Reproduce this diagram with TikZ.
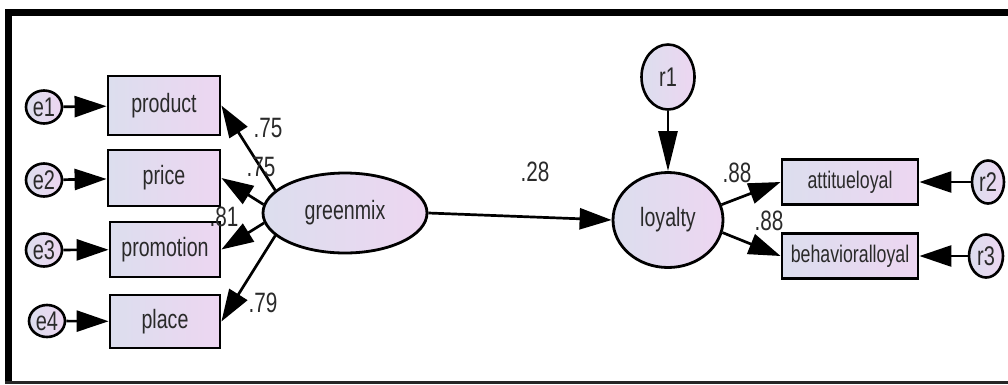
\documentclass[tikz,border=0pt]{standalone}
\usepackage{fontspec}
\setmainfont{Liberation Sans}[FakeStretch=0.74]
\usetikzlibrary{arrows.meta,shapes.geometric}
\definecolor{lfill}{HTML}{DCDEEE}
\definecolor{rfill}{HTML}{EDD6F1}
\definecolor{txt}{HTML}{2A2A2A}
\tikzset{
  obs/.style={draw=black, line width=2.8pt, rectangle, left color=lfill, right color=rfill,
    inner sep=0pt, text=txt, font=\fontsize{26.5}{26.5}\selectfont},
  lat/.style={draw=black, line width=2.8pt, ellipse, left color=lfill, right color=rfill,
    inner sep=0pt, text=txt, font=\fontsize{26.5}{26.5}\selectfont},
  err/.style={draw=black, line width=2.6pt, ellipse, left color=lfill, right color=rfill,
    inner sep=0pt, text=txt, font=\fontsize{27}{27}\selectfont},
  arr/.style={line width=2.7pt, -{Triangle[length=32pt,width=21pt]}},
  lab/.style={text=txt, font=\fontsize{28}{28}\selectfont, inner sep=0pt}
}
\begin{document}
\begin{tikzpicture}[x=1pt,y=-1pt]
\useasboundingbox (0,0) rectangle (1008,384);
% frame
\fill[black] (5,9) rectangle (12,384);
\fill[black] (5,9) rectangle (1008,16);
\fill[black!85] (5,381) rectangle (1008,384);
% observed indicators
\node[obs, minimum width=112pt, minimum height=59pt] (product) at (164,105.5) {product};
\node[obs, minimum width=112pt, minimum height=56pt] (price) at (164,178) {price};
\node[obs, minimum width=110pt, minimum height=55pt] (promotion) at (165,249.5) {promotion};
\node[obs, minimum width=110pt, minimum height=53pt] (place) at (165,321.5) {place};
% errors
\node[err, minimum width=36pt, minimum height=33pt] (e1) at (44,107) {e1};
\node[err, minimum width=36pt, minimum height=33pt] (e2) at (44,180) {e2};
\node[err, minimum width=36pt, minimum height=33pt] (e3) at (44,250) {e3};
\node[err, minimum width=36pt, minimum height=32pt] (e4) at (47,321) {e4};
% latent
\node[lat, minimum width=164pt, minimum height=80pt] (gm) at (345,213) {greenmix};
\node[lat, minimum width=110pt, minimum height=95pt] (loy) at (668,220) {loyalty};
\node[err, minimum width=53pt, minimum height=65pt] (r1) at (668,77) {r1};
% loyalty indicators
\node[obs, minimum width=136pt, minimum height=45pt, font=\fontsize{24}{24}\selectfont] (att) at (850,182) {attitueloyal};
\node[obs, minimum width=136pt, minimum height=45pt, font=\fontsize{24}{24}\selectfont] (beh) at (850,256) {behavioralloyal};
\node[err, minimum width=32pt, minimum height=43pt] (r2) at (988,182) {r2};
\node[err, minimum width=34pt, minimum height=43pt] (r3) at (986,256) {r3};
% arrows
\draw[arr] (e1) -- (product);
\draw[arr] (e2) -- (price);
\draw[arr] (e3) -- (promotion);
\draw[arr] (e4) -- (place);
\draw[arr] (gm.162) -- (product.east);
\draw[arr] (gm.174) -- (price.east);
\draw[arr] (gm.187) -- (promotion.east);
\draw[arr] (gm.198) -- (place.east);
\draw[arr] (gm.east) -- (loy.west);
\draw[arr, -{Triangle[length=40pt,width=19pt]}] (r1) -- (loy);
\draw[arr] (loy.16) -- (att.west);
\draw[arr] (loy.-13) -- (beh.west);
\draw[arr] (r2) -- (att);
\draw[arr] (r3) -- (beh);
% labels
\node[lab] (l1) at (268,128) {.75};
\node[lab] (l2) at (261,167) {.75};
\node[lab] (l3) at (224,217) {.81};
\node[lab] (l4) at (263,303) {.79};
\node[lab] (l5) at (535,172) {.28};
\node[lab] (l6) at (737,173) {.88};
\node[lab] (l7) at (769,221) {.88};
\end{tikzpicture}
\end{document}
